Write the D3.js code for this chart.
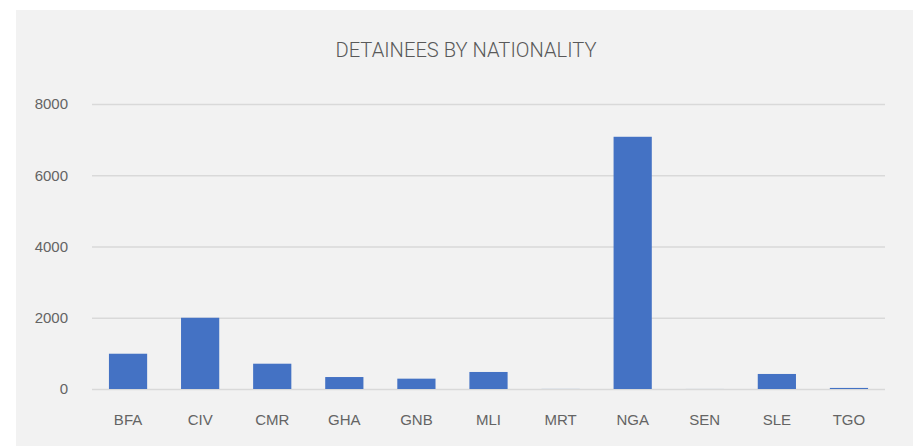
<!DOCTYPE html>
<html>
<head>
<meta charset="utf-8">
<script src="https://cdn.jsdelivr.net/npm/d3@7"></script>
<style>
  html, body { margin: 0; padding: 0; background: #ffffff; }
  svg { display: block; }
</style>
</head>
<body>
<svg id="chart" width="913" height="446"></svg>
<script>
// Detainees counted per nationality (ISO3 codes)
const categories = ["BFA", "CIV", "CMR", "GHA", "GNB", "MLI", "MRT", "NGA", "SEN", "SLE", "TGO"];
const detainees = [990, 2000, 710, 336, 290, 478, 2, 7080, 1, 422, 30];
const yTicks = [0, 2000, 4000, 6000, 8000];
const chartTitle = "DETAINEES BY NATIONALITY";

const svg = d3.select("#chart");
const W = 913, H = 446;
const margin = { left: 92, right: 28, top: 104, bottom: 57 };

// Chart area panel
svg.append("rect")
  .attr("x", 16).attr("y", 10)
  .attr("width", W - 16).attr("height", H - 10)
  .attr("fill", "#f2f2f2");

const x = d3.scaleBand()
  .domain(categories)
  .range([margin.left, W - margin.right])
  .paddingInner(0.47)
  .paddingOuter(0.235);

const y = d3.scaleLinear()
  .domain([0, 8000])
  .range([H - margin.bottom, margin.top]);

// Horizontal gridlines + tick labels
const yAxis = d3.axisLeft(y)
  .tickValues(yTicks)
  .tickSize(-(W - margin.right - margin.left))
  .tickPadding(24)
  .tickFormat(d3.format("d"));

const gy = svg.append("g")
  .attr("transform", `translate(${margin.left},0)`)
  .call(yAxis);
gy.select(".domain").remove();
gy.selectAll(".tick line").attr("stroke", "#d9d9d9").attr("stroke-width", 1.5);
gy.selectAll(".tick text")
  .attr("fill", "#646464")
  .style("font-family", "'Liberation Sans', Arial, sans-serif")
  .style("font-size", "15px");

// Bars
svg.append("g")
  .selectAll("rect")
  .data(categories.map((c, i) => ({ c, v: detainees[i] })))
  .join("rect")
  .attr("x", d => x(d.c))
  .attr("width", x.bandwidth())
  .attr("y", d => y(d.v))
  .attr("height", d => y(0) - y(d.v))
  .attr("fill", "#4472c4");

// Category axis labels
const xAxis = d3.axisBottom(x).tickSize(0).tickPadding(25);
const gx = svg.append("g")
  .attr("transform", `translate(0,${y(0)})`)
  .call(xAxis);
gx.select(".domain").remove();
gx.selectAll(".tick text")
  .attr("fill", "#646464")
  .style("font-family", "'Liberation Sans', Arial, sans-serif")
  .style("font-size", "15px");

// Title
svg.append("text")
  .attr("x", 466)
  .attr("y", 57)
  .attr("text-anchor", "middle")
  .attr("fill", "#595959")
  .attr("textLength", 261)
  .attr("lengthAdjust", "spacingAndGlyphs")
  .style("font-family", "Roboto, sans-serif")
  .style("font-weight", 300)
  .style("font-size", "19.5px")
  .text(chartTitle);
</script>
</body>
</html>
